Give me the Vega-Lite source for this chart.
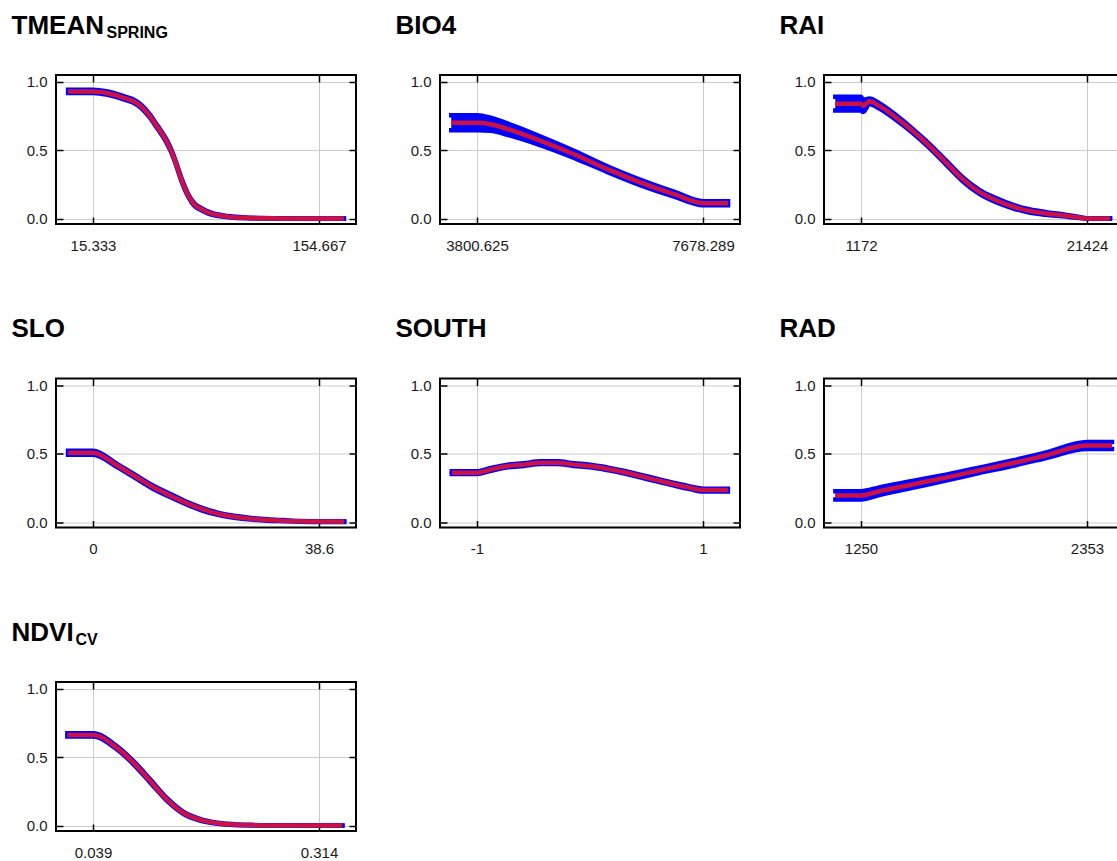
{
  "$schema": "https://vega.github.io/schema/vega-lite/v6.json",
  "background": "white",
  "padding": {"left": 10, "top": 11, "right": 0, "bottom": 0},
  "config": {
    "view": {"stroke": "black", "strokeWidth": 2},
    "axis": {
      "labelFont": "Liberation Sans", "labelFontSize": 15, "labelColor": "#1a1a1a",
      "labelFlush": false, "labelOverlap": false,
      "tickColor": "black", "tickWidth": 1.5, "tickSize": -7,
      "domain": false, "gridColor": "#cccccc", "gridWidth": 1,
      "titleFont": "Liberation Sans", "titleFontWeight": "bold", "titleColor": "black",
      "titleAngle": 0, "titleAlign": "left", "titleBaseline": "alphabetic"
    },
    "axisBottom": {"labelPadding": 21},
    "axisLeft": {"labelPadding": 16},
    "line": {"interpolate": "monotone"},
    "area": {"interpolate": "monotone"}
  },
  "datasets": {
    "tmean": [
      {"x":0,"m":0.93,"lo":0.918,"hi":0.942},
      {"x":15.333,"m":0.93,"lo":0.918,"hi":0.942},
      {"x":20,"m":0.925,"lo":0.913,"hi":0.937},
      {"x":25,"m":0.915,"lo":0.903,"hi":0.927},
      {"x":30,"m":0.9,"lo":0.888,"hi":0.912},
      {"x":35,"m":0.88,"lo":0.868,"hi":0.892},
      {"x":40,"m":0.86,"lo":0.848,"hi":0.872},
      {"x":45,"m":0.82,"lo":0.808,"hi":0.832},
      {"x":50,"m":0.755,"lo":0.743,"hi":0.767},
      {"x":55,"m":0.67,"lo":0.658,"hi":0.682},
      {"x":60,"m":0.58,"lo":0.568,"hi":0.592},
      {"x":63,"m":0.51,"lo":0.498,"hi":0.522},
      {"x":66,"m":0.42,"lo":0.408,"hi":0.432},
      {"x":70,"m":0.28,"lo":0.268,"hi":0.292},
      {"x":74,"m":0.17,"lo":0.16,"hi":0.18},
      {"x":78,"m":0.1,"lo":0.09,"hi":0.11},
      {"x":82,"m":0.07,"lo":0.062,"hi":0.078},
      {"x":86,"m":0.045,"lo":0.038,"hi":0.052},
      {"x":90,"m":0.03,"lo":0.024,"hi":0.036},
      {"x":95,"m":0.02,"lo":0.015,"hi":0.025},
      {"x":100,"m":0.012,"lo":0.008,"hi":0.016},
      {"x":110,"m":0.005,"lo":0.002,"hi":0.008},
      {"x":120,"m":0.002,"lo":0.0,"hi":0.004},
      {"x":130,"m":0.001,"lo":0.0,"hi":0.002},
      {"x":140,"m":0,"lo":0,"hi":0},
      {"x":154.667,"m":0,"lo":0,"hi":0},
      {"x":170,"m":0,"lo":0,"hi":0}
    ],
    "bio4": [
      {"x":3359,"m":0.70,"lo":0.645,"hi":0.755},
      {"x":3806,"m":0.70,"lo":0.645,"hi":0.755},
      {"x":4035,"m":0.69,"lo":0.643,"hi":0.737},
      {"x":4321,"m":0.655,"lo":0.613,"hi":0.697},
      {"x":4893,"m":0.568,"lo":0.536,"hi":0.6},
      {"x":5465,"m":0.47,"lo":0.444,"hi":0.496},
      {"x":6037,"m":0.361,"lo":0.34,"hi":0.382},
      {"x":6609,"m":0.263,"lo":0.243,"hi":0.283},
      {"x":7181,"m":0.178,"lo":0.16,"hi":0.196},
      {"x":7684,"m":0.112,"lo":0.097,"hi":0.127},
      {"x":8108,"m":0.112,"lo":0.097,"hi":0.127}
    ],
    "rai": [
      {"x":-1131,"m":0.84,"lo":0.79,"hi":0.89},
      {"x":1172,"m":0.84,"lo":0.79,"hi":0.89},
      {"x":1380,"m":0.825,"lo":0.78,"hi":0.87},
      {"x":1919,"m":0.858,"lo":0.838,"hi":0.878},
      {"x":2812,"m":0.824,"lo":0.804,"hi":0.844},
      {"x":4308,"m":0.739,"lo":0.721,"hi":0.757},
      {"x":5804,"m":0.641,"lo":0.626,"hi":0.656},
      {"x":7298,"m":0.532,"lo":0.517,"hi":0.547},
      {"x":8788,"m":0.41,"lo":0.395,"hi":0.425},
      {"x":10284,"m":0.288,"lo":0.273,"hi":0.303},
      {"x":11776,"m":0.195,"lo":0.18,"hi":0.21},
      {"x":13268,"m":0.134,"lo":0.119,"hi":0.149},
      {"x":14764,"m":0.088,"lo":0.075,"hi":0.101},
      {"x":16252,"m":0.056,"lo":0.044,"hi":0.068},
      {"x":17748,"m":0.037,"lo":0.027,"hi":0.047},
      {"x":19244,"m":0.024,"lo":0.016,"hi":0.032},
      {"x":20732,"m":0.007,"lo":0.003,"hi":0.011},
      {"x":21424,"m":0.0,"lo":-0.002,"hi":0.002},
      {"x":23485,"m":0.0,"lo":-0.002,"hi":0.002}
    ],
    "slo": [
      {"x":-4.26,"m":0.507,"lo":0.492,"hi":0.522},
      {"x":0,"m":0.507,"lo":0.492,"hi":0.522},
      {"x":4.26,"m":0.41,"lo":0.398,"hi":0.422},
      {"x":7.1,"m":0.337,"lo":0.325,"hi":0.349},
      {"x":9.93,"m":0.263,"lo":0.251,"hi":0.275},
      {"x":12.77,"m":0.202,"lo":0.19,"hi":0.214},
      {"x":15.6,"m":0.146,"lo":0.136,"hi":0.156},
      {"x":18.4,"m":0.098,"lo":0.088,"hi":0.108},
      {"x":21.3,"m":0.061,"lo":0.053,"hi":0.069},
      {"x":24.1,"m":0.039,"lo":0.032,"hi":0.046},
      {"x":27.0,"m":0.024,"lo":0.018,"hi":0.03},
      {"x":29.8,"m":0.015,"lo":0.01,"hi":0.02},
      {"x":32.6,"m":0.01,"lo":0.006,"hi":0.014},
      {"x":35.5,"m":0.005,"lo":0.002,"hi":0.008},
      {"x":38.6,"m":0.003,"lo":0.0,"hi":0.006},
      {"x":42.9,"m":0.003,"lo":0.0,"hi":0.006}
    ],
    "south": [
      {"x":-1.223,"m":0.361,"lo":0.351,"hi":0.371},
      {"x":-1.0,"m":0.361,"lo":0.351,"hi":0.371},
      {"x":-0.877,"m":0.385,"lo":0.375,"hi":0.395},
      {"x":-0.73,"m":0.41,"lo":0.4,"hi":0.42},
      {"x":-0.584,"m":0.42,"lo":0.41,"hi":0.43},
      {"x":-0.437,"m":0.434,"lo":0.424,"hi":0.444},
      {"x":-0.29,"m":0.434,"lo":0.424,"hi":0.444},
      {"x":-0.144,"m":0.42,"lo":0.41,"hi":0.43},
      {"x":0.003,"m":0.41,"lo":0.4,"hi":0.42},
      {"x":0.15,"m":0.39,"lo":0.38,"hi":0.4},
      {"x":0.296,"m":0.366,"lo":0.356,"hi":0.376},
      {"x":0.443,"m":0.337,"lo":0.327,"hi":0.347},
      {"x":0.59,"m":0.307,"lo":0.297,"hi":0.317},
      {"x":0.736,"m":0.278,"lo":0.268,"hi":0.288},
      {"x":0.883,"m":0.251,"lo":0.241,"hi":0.261},
      {"x":1.0,"m":0.234,"lo":0.224,"hi":0.244},
      {"x":1.22,"m":0.234,"lo":0.224,"hi":0.244}
    ],
    "rad": [
      {"x":1125,"m":0.195,"lo":0.165,"hi":0.225},
      {"x":1250,"m":0.195,"lo":0.165,"hi":0.225},
      {"x":1339,"m":0.225,"lo":0.197,"hi":0.253},
      {"x":1501,"m":0.275,"lo":0.25,"hi":0.3},
      {"x":1664,"m":0.325,"lo":0.303,"hi":0.347},
      {"x":1826,"m":0.378,"lo":0.358,"hi":0.398},
      {"x":1988,"m":0.43,"lo":0.41,"hi":0.45},
      {"x":2150,"m":0.487,"lo":0.467,"hi":0.507},
      {"x":2353,"m":0.56,"lo":0.535,"hi":0.585},
      {"x":2475,"m":0.56,"lo":0.535,"hi":0.585}
    ],
    "ndvi": [
      {"x":0.0078,"m":0.663,"lo":0.651,"hi":0.675},
      {"x":0.039,"m":0.663,"lo":0.651,"hi":0.675},
      {"x":0.0686,"m":0.566,"lo":0.554,"hi":0.578},
      {"x":0.0889,"m":0.456,"lo":0.444,"hi":0.468},
      {"x":0.1092,"m":0.322,"lo":0.31,"hi":0.334},
      {"x":0.1294,"m":0.188,"lo":0.178,"hi":0.198},
      {"x":0.1497,"m":0.09,"lo":0.082,"hi":0.098},
      {"x":0.17,"m":0.041,"lo":0.035,"hi":0.047},
      {"x":0.1903,"m":0.017,"lo":0.013,"hi":0.021},
      {"x":0.2106,"m":0.007,"lo":0.004,"hi":0.01},
      {"x":0.2308,"m":0.003,"lo":0.001,"hi":0.005},
      {"x":0.26,"m":0.001,"lo":0.0,"hi":0.002},
      {"x":0.314,"m":0.0,"lo":0.0,"hi":0.0},
      {"x":0.3424,"m":0.0,"lo":0.0,"hi":0.0}
    ]
  },
  "bounds": "flush",
  "columns": 3,
  "spacing": {"row": 154.5, "column": 84},
  "concat": [
    {
      "width": 300, "height": 149,
      "data": {"name": "tmean"},
      "layer": [
        {"mark": {"type": "area", "color": "#0000ff", "opacity": 1},
         "encoding": {
           "x": {"field": "x", "type": "quantitative", "scale": {"domain": [-7.48, 177.48], "nice": false, "zero": false},
                 "axis": {"orient": "bottom", "values": [15.333, 154.667], "labelExpr": "'' + datum.value", "grid": true, "title": null}},
           "y": {"field": "lo", "type": "quantitative", "scale": {"domain": [-0.04, 1.05], "nice": false, "zero": false},
                 "axis": {"orient": "left", "values": [0, 0.5, 1], "format": ".1f", "grid": true, "title": null}},
           "y2": {"field": "hi"}}},
        {"mark": {"type": "line", "color": "#0000ff", "strokeWidth": 4.5, "strokeCap": "square"},
         "encoding": {
           "x": {"field": "x", "type": "quantitative", "axis": {"orient": "top", "values": [15.333, 154.667], "labels": false, "grid": false, "title": "TMEAN", "titleFontSize": 26, "titleX": -45, "titleY": -42}},
           "y": {"field": "hi", "type": "quantitative", "axis": {"orient": "right", "values": [0, 0.5, 1], "labels": false, "grid": false, "title": "SPRING", "titleFontSize": 16, "titleX": -250, "titleY": -38}}}},
        {"mark": {"type": "line", "color": "#0000ff", "strokeWidth": 4.5, "strokeCap": "square"},
         "encoding": {"x": {"field": "x", "type": "quantitative", "axis": null}, "y": {"field": "lo", "type": "quantitative", "axis": null}}},
        {"mark": {"type": "line", "color": "#cc1144", "strokeWidth": 4.5},
         "encoding": {"x": {"field": "x", "type": "quantitative", "axis": null}, "y": {"field": "m", "type": "quantitative", "axis": null}}}
      ],
      "resolve": {"axis": {"x": "independent", "y": "independent"}}
    },
    {
      "width": 300, "height": 149,
      "data": {"name": "bio4"},
      "layer": [
        {"mark": {"type": "area", "color": "#0000ff", "opacity": 1},
         "encoding": {
           "x": {"field": "x", "type": "quantitative", "scale": {"domain": [3165.8, 8313.1], "nice": false, "zero": false},
                 "axis": {"orient": "bottom", "values": [3800.625, 7678.289], "labelExpr": "'' + datum.value", "grid": true, "title": null}},
           "y": {"field": "lo", "type": "quantitative", "scale": {"domain": [-0.04, 1.05], "nice": false, "zero": false},
                 "axis": {"orient": "left", "values": [0, 0.5, 1], "format": ".1f", "grid": true, "title": null}},
           "y2": {"field": "hi"}}},
        {"mark": {"type": "line", "color": "#0000ff", "strokeWidth": 4.5, "strokeCap": "square"},
         "encoding": {
           "x": {"field": "x", "type": "quantitative", "axis": {"orient": "top", "values": [3800.625, 7678.289], "labels": false, "grid": false, "title": "BIO4", "titleFontSize": 26, "titleX": -45, "titleY": -42}},
           "y": {"field": "hi", "type": "quantitative", "axis": {"orient": "right", "values": [0, 0.5, 1], "labels": false, "grid": false, "title": null}}}},
        {"mark": {"type": "line", "color": "#0000ff", "strokeWidth": 4.5, "strokeCap": "square"},
         "encoding": {"x": {"field": "x", "type": "quantitative", "axis": null}, "y": {"field": "lo", "type": "quantitative", "axis": null}}},
        {"mark": {"type": "line", "color": "#cc1144", "strokeWidth": 4.5},
         "encoding": {"x": {"field": "x", "type": "quantitative", "axis": null}, "y": {"field": "m", "type": "quantitative", "axis": null}}}
      ],
      "resolve": {"axis": {"x": "independent", "y": "independent"}}
    },
    {
      "width": 300, "height": 149,
      "data": {"name": "rai"},
      "layer": [
        {"mark": {"type": "area", "color": "#0000ff", "opacity": 1},
         "encoding": {
           "x": {"field": "x", "type": "quantitative", "scale": {"domain": [-2143.6, 24739.6], "nice": false, "zero": false},
                 "axis": {"orient": "bottom", "values": [1172, 21424], "labelExpr": "'' + datum.value", "grid": true, "title": null}},
           "y": {"field": "lo", "type": "quantitative", "scale": {"domain": [-0.04, 1.05], "nice": false, "zero": false},
                 "axis": {"orient": "left", "values": [0, 0.5, 1], "format": ".1f", "grid": true, "title": null}},
           "y2": {"field": "hi"}}},
        {"mark": {"type": "line", "color": "#0000ff", "strokeWidth": 4.5, "strokeCap": "square"},
         "encoding": {
           "x": {"field": "x", "type": "quantitative", "axis": {"orient": "top", "values": [1172, 21424], "labels": false, "grid": false, "title": "RAI", "titleFontSize": 26, "titleX": -45, "titleY": -42}},
           "y": {"field": "hi", "type": "quantitative", "axis": {"orient": "right", "values": [0, 0.5, 1], "labels": false, "grid": false, "title": null}}}},
        {"mark": {"type": "line", "color": "#0000ff", "strokeWidth": 4.5, "strokeCap": "square"},
         "encoding": {"x": {"field": "x", "type": "quantitative", "axis": null}, "y": {"field": "lo", "type": "quantitative", "axis": null}}},
        {"mark": {"type": "line", "color": "#cc1144", "strokeWidth": 4.5},
         "encoding": {"x": {"field": "x", "type": "quantitative", "axis": null}, "y": {"field": "m", "type": "quantitative", "axis": null}}}
      ],
      "resolve": {"axis": {"x": "independent", "y": "independent"}}
    },
    {
      "width": 300, "height": 149,
      "data": {"name": "slo"},
      "layer": [
        {"mark": {"type": "area", "color": "#0000ff", "opacity": 1},
         "encoding": {
           "x": {"field": "x", "type": "quantitative", "scale": {"domain": [-6.319, 44.919], "nice": false, "zero": false},
                 "axis": {"orient": "bottom", "values": [0, 38.6], "labelExpr": "'' + datum.value", "grid": true, "title": null}},
           "y": {"field": "lo", "type": "quantitative", "scale": {"domain": [-0.04, 1.05], "nice": false, "zero": false},
                 "axis": {"orient": "left", "values": [0, 0.5, 1], "format": ".1f", "grid": true, "title": null}},
           "y2": {"field": "hi"}}},
        {"mark": {"type": "line", "color": "#0000ff", "strokeWidth": 4.5, "strokeCap": "square"},
         "encoding": {
           "x": {"field": "x", "type": "quantitative", "axis": {"orient": "top", "values": [0, 38.6], "labels": false, "grid": false, "title": "SLO", "titleFontSize": 26, "titleX": -45, "titleY": -42}},
           "y": {"field": "hi", "type": "quantitative", "axis": {"orient": "right", "values": [0, 0.5, 1], "labels": false, "grid": false, "title": null}}}},
        {"mark": {"type": "line", "color": "#0000ff", "strokeWidth": 4.5, "strokeCap": "square"},
         "encoding": {"x": {"field": "x", "type": "quantitative", "axis": null}, "y": {"field": "lo", "type": "quantitative", "axis": null}}},
        {"mark": {"type": "line", "color": "#cc1144", "strokeWidth": 4.5},
         "encoding": {"x": {"field": "x", "type": "quantitative", "axis": null}, "y": {"field": "m", "type": "quantitative", "axis": null}}}
      ],
      "resolve": {"axis": {"x": "independent", "y": "independent"}}
    },
    {
      "width": 300, "height": 149,
      "data": {"name": "south"},
      "layer": [
        {"mark": {"type": "area", "color": "#0000ff", "opacity": 1},
         "encoding": {
           "x": {"field": "x", "type": "quantitative", "scale": {"domain": [-1.3274, 1.3274], "nice": false, "zero": false},
                 "axis": {"orient": "bottom", "values": [-1, 1], "labelExpr": "'' + datum.value", "grid": true, "title": null}},
           "y": {"field": "lo", "type": "quantitative", "scale": {"domain": [-0.04, 1.05], "nice": false, "zero": false},
                 "axis": {"orient": "left", "values": [0, 0.5, 1], "format": ".1f", "grid": true, "title": null}},
           "y2": {"field": "hi"}}},
        {"mark": {"type": "line", "color": "#0000ff", "strokeWidth": 4.5, "strokeCap": "square"},
         "encoding": {
           "x": {"field": "x", "type": "quantitative", "axis": {"orient": "top", "values": [-1, 1], "labels": false, "grid": false, "title": "SOUTH", "titleFontSize": 26, "titleX": -45, "titleY": -42}},
           "y": {"field": "hi", "type": "quantitative", "axis": {"orient": "right", "values": [0, 0.5, 1], "labels": false, "grid": false, "title": null}}}},
        {"mark": {"type": "line", "color": "#0000ff", "strokeWidth": 4.5, "strokeCap": "square"},
         "encoding": {"x": {"field": "x", "type": "quantitative", "axis": null}, "y": {"field": "lo", "type": "quantitative", "axis": null}}},
        {"mark": {"type": "line", "color": "#cc1144", "strokeWidth": 4.5},
         "encoding": {"x": {"field": "x", "type": "quantitative", "axis": null}, "y": {"field": "m", "type": "quantitative", "axis": null}}}
      ],
      "resolve": {"axis": {"x": "independent", "y": "independent"}}
    },
    {
      "width": 300, "height": 149,
      "data": {"name": "rad"},
      "layer": [
        {"mark": {"type": "area", "color": "#0000ff", "opacity": 1},
         "encoding": {
           "x": {"field": "x", "type": "quantitative", "scale": {"domain": [1069.4, 2533.6], "nice": false, "zero": false},
                 "axis": {"orient": "bottom", "values": [1250, 2353], "labelExpr": "'' + datum.value", "grid": true, "title": null}},
           "y": {"field": "lo", "type": "quantitative", "scale": {"domain": [-0.04, 1.05], "nice": false, "zero": false},
                 "axis": {"orient": "left", "values": [0, 0.5, 1], "format": ".1f", "grid": true, "title": null}},
           "y2": {"field": "hi"}}},
        {"mark": {"type": "line", "color": "#0000ff", "strokeWidth": 4.5, "strokeCap": "square"},
         "encoding": {
           "x": {"field": "x", "type": "quantitative", "axis": {"orient": "top", "values": [1250, 2353], "labels": false, "grid": false, "title": "RAD", "titleFontSize": 26, "titleX": -45, "titleY": -42}},
           "y": {"field": "hi", "type": "quantitative", "axis": {"orient": "right", "values": [0, 0.5, 1], "labels": false, "grid": false, "title": null}}}},
        {"mark": {"type": "line", "color": "#0000ff", "strokeWidth": 4.5, "strokeCap": "square"},
         "encoding": {"x": {"field": "x", "type": "quantitative", "axis": null}, "y": {"field": "lo", "type": "quantitative", "axis": null}}},
        {"mark": {"type": "line", "color": "#cc1144", "strokeWidth": 4.5},
         "encoding": {"x": {"field": "x", "type": "quantitative", "axis": null}, "y": {"field": "m", "type": "quantitative", "axis": null}}}
      ],
      "resolve": {"axis": {"x": "independent", "y": "independent"}}
    },
    {
      "width": 300, "height": 149,
      "data": {"name": "ndvi"},
      "layer": [
        {"mark": {"type": "area", "color": "#0000ff", "opacity": 1},
         "encoding": {
           "x": {"field": "x", "type": "quantitative", "scale": {"domain": [-0.00602, 0.35902], "nice": false, "zero": false},
                 "axis": {"orient": "bottom", "values": [0.039, 0.314], "labelExpr": "'' + datum.value", "grid": true, "title": null}},
           "y": {"field": "lo", "type": "quantitative", "scale": {"domain": [-0.04, 1.05], "nice": false, "zero": false},
                 "axis": {"orient": "left", "values": [0, 0.5, 1], "format": ".1f", "grid": true, "title": null}},
           "y2": {"field": "hi"}}},
        {"mark": {"type": "line", "color": "#0000ff", "strokeWidth": 4.5, "strokeCap": "square"},
         "encoding": {
           "x": {"field": "x", "type": "quantitative", "axis": {"orient": "top", "values": [0.039, 0.314], "labels": false, "grid": false, "title": "NDVI", "titleFontSize": 26, "titleX": -45, "titleY": -42}},
           "y": {"field": "hi", "type": "quantitative", "axis": {"orient": "right", "values": [0, 0.5, 1], "labels": false, "grid": false, "title": "CV", "titleFontSize": 16, "titleX": -281, "titleY": -38}}}},
        {"mark": {"type": "line", "color": "#0000ff", "strokeWidth": 4.5, "strokeCap": "square"},
         "encoding": {"x": {"field": "x", "type": "quantitative", "axis": null}, "y": {"field": "lo", "type": "quantitative", "axis": null}}},
        {"mark": {"type": "line", "color": "#cc1144", "strokeWidth": 4.5},
         "encoding": {"x": {"field": "x", "type": "quantitative", "axis": null}, "y": {"field": "m", "type": "quantitative", "axis": null}}}
      ],
      "resolve": {"axis": {"x": "independent", "y": "independent"}}
    }
  ]
}
